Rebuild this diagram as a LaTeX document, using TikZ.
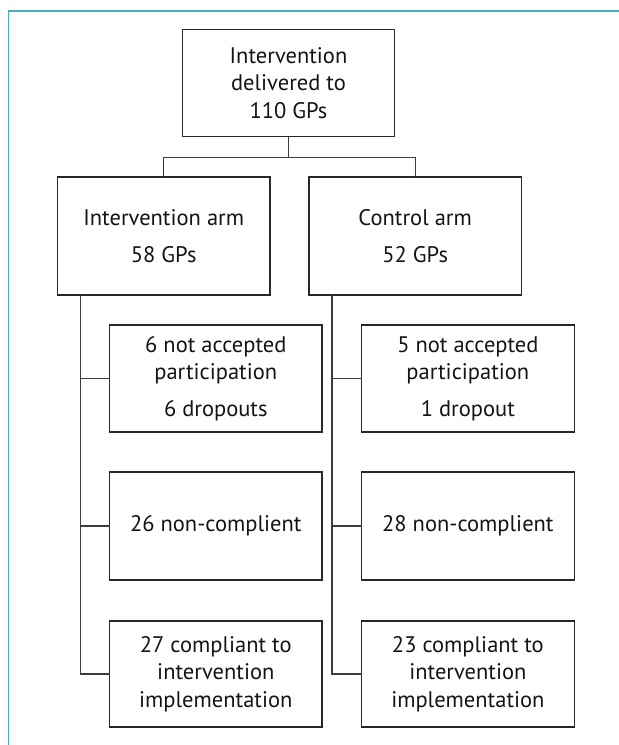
\documentclass[tikz,border=0pt]{standalone}
\usepackage{fontspec}
\setmainfont{PT Sans}
\usetikzlibrary{calc}
\definecolor{frameteal}{RGB}{74,172,190}
\definecolor{boxline}{RGB}{40,40,40}
\definecolor{conline}{RGB}{60,60,60}
\definecolor{txt}{RGB}{20,20,20}
\tikzset{
  flowbox/.style={draw=boxline, line width=1.2pt, inner sep=0pt, outer sep=0pt,
    minimum width=212.5pt, align=center, text=txt,
    font=\fontsize{22.5}{27.5}\selectfont},
  conn/.style={draw=conline, line width=1.2pt},
}
\begin{document}
\begin{tikzpicture}[x=1pt,y=-1pt]
\useasboundingbox (0,0) rectangle (619,745);
% frame
\draw[frameteal, line width=1.6pt] (8.3,746) -- (8.3,10.7) -- (620,10.7);
% nodes
\node[flowbox, minimum height=107pt] (top) at (288.5,83) {Intervention\\delivered to\\110 GPs};
\node[flowbox, minimum height=118pt] (armL) at (163.7,236) {Intervention arm\\[9pt]58 GPs};
\node[flowbox, minimum height=118pt] (armR) at (415.2,236) {Control arm\\[9pt]52 GPs};
\node[flowbox, minimum height=107pt] (b2L) at (215.8,378.5) {6 not accepted\\participation\\[9pt]6 dropouts};
\node[flowbox, minimum height=107pt] (b2R) at (467.9,378.5) {5 not accepted\\participation\\[9pt]1 dropout};
\node[flowbox, minimum height=108pt] (b3L) at (215.8,526) {26 non-complient};
\node[flowbox, minimum height=108pt] (b3R) at (467.9,526) {28 non-complient};
\node[flowbox, minimum height=106pt] (b4L) at (215.8,674) {27 compliant to\\intervention\\implementation};
\node[flowbox, minimum height=106pt] (b4R) at (467.9,674) {23 compliant to\\intervention\\implementation};
% connectors
\coordinate (jn) at ($(top.south)+(0,21)$);
\draw[conn] (top.south) -- (jn);
\draw[conn] (armL.north) |- (jn) -| (armR.north);
\coordinate (vL) at ($(armL.south west)+(23,0)$);
\coordinate (vR) at ($(armR.south west)+(23,0)$);
\draw[conn] (vL) |- (b4L.west);
\draw[conn] (b2L.west) -- (b2L.west -| vL);
\draw[conn] (b3L.west) -- (b3L.west -| vL);
\draw[conn] (vR) |- (b4R.west);
\draw[conn] (b2R.west) -- (b2R.west -| vR);
\draw[conn] (b3R.west) -- (b3R.west -| vR);
\end{tikzpicture}
\end{document}
